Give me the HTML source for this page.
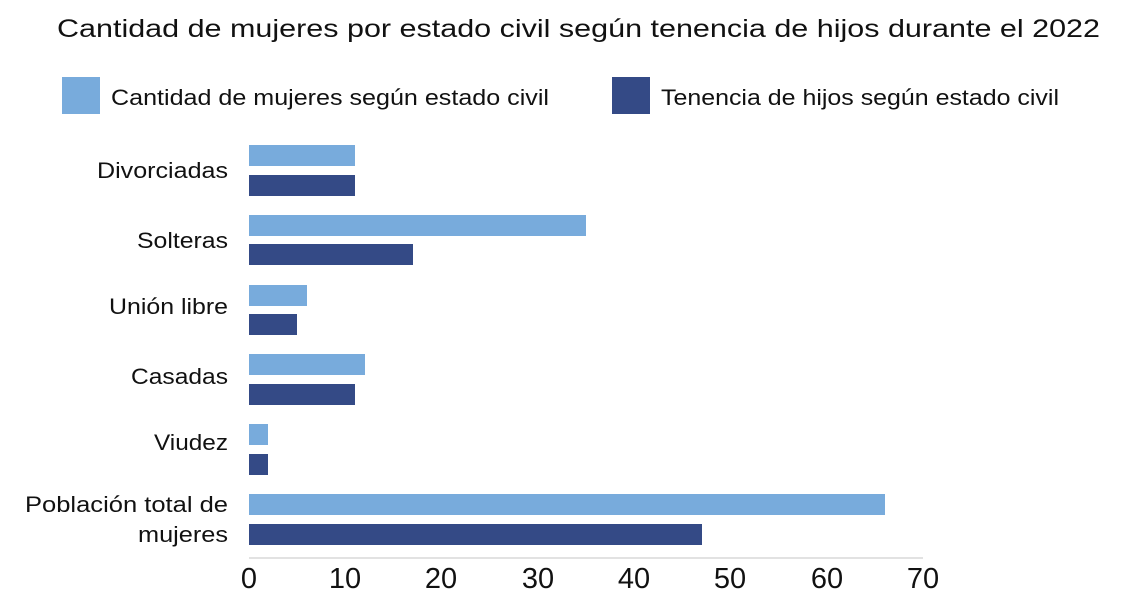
<!DOCTYPE html>
<html><head><style>
body{margin:0;background:#fff;width:1125px;height:607px;overflow:hidden;font-family:"Liberation Sans",sans-serif;color:#111}
</style></head><body>
<svg width="1125" height="607" xmlns="http://www.w3.org/2000/svg" font-family="Liberation Sans, sans-serif">
<text x="57" y="37" font-size="25" fill="#111" textLength="1043" lengthAdjust="spacingAndGlyphs">Cantidad de mujeres por estado civil según tenencia de hijos durante el 2022</text>
<rect x="62" y="77" width="38" height="37" fill="#78abdc"/>
<text x="111" y="105" font-size="22" fill="#111" textLength="438" lengthAdjust="spacingAndGlyphs">Cantidad de mujeres según estado civil</text>
<rect x="612" y="77" width="38" height="37" fill="#344a86"/>
<text x="661" y="105" font-size="22" fill="#111" textLength="398" lengthAdjust="spacingAndGlyphs">Tenencia de hijos según estado civil</text>
<g font-size="22" fill="#111">
<text x="97" y="178" textLength="131" lengthAdjust="spacingAndGlyphs">Divorciadas</text>
<text x="137" y="248" textLength="91" lengthAdjust="spacingAndGlyphs">Solteras</text>
<text x="109" y="314" textLength="119" lengthAdjust="spacingAndGlyphs">Unión libre</text>
<text x="131" y="384" textLength="97" lengthAdjust="spacingAndGlyphs">Casadas</text>
<text x="154" y="450" textLength="74" lengthAdjust="spacingAndGlyphs">Viudez</text>
<text x="25" y="512" textLength="203" lengthAdjust="spacingAndGlyphs">Población total de</text>
<text x="138" y="542" textLength="90" lengthAdjust="spacingAndGlyphs">mujeres</text>
</g>
<g fill="#78abdc">
<rect x="249" y="145" width="106" height="21"/>
<rect x="249" y="215" width="337" height="21"/>
<rect x="249" y="285" width="58" height="21"/>
<rect x="249" y="354" width="116" height="21"/>
<rect x="249" y="424" width="19" height="21"/>
<rect x="249" y="494" width="636" height="21"/>
</g>
<g fill="#344a86">
<rect x="249" y="175" width="106" height="21"/>
<rect x="249" y="244" width="164" height="21"/>
<rect x="249" y="314" width="48" height="21"/>
<rect x="249" y="384" width="106" height="21"/>
<rect x="249" y="454" width="19" height="21"/>
<rect x="249" y="524" width="453" height="21"/>
</g>
<line x1="249" y1="558" x2="923" y2="558" stroke="#d9d9d9" stroke-width="1.5"/>
<g font-size="29" text-anchor="middle" fill="#111">
<text x="249" y="588">0</text>
<text x="345" y="588">10</text>
<text x="441" y="588">20</text>
<text x="538" y="588">30</text>
<text x="634" y="588">40</text>
<text x="730" y="588">50</text>
<text x="827" y="588">60</text>
<text x="923" y="588">70</text>
</g>
</svg>
</body></html>
